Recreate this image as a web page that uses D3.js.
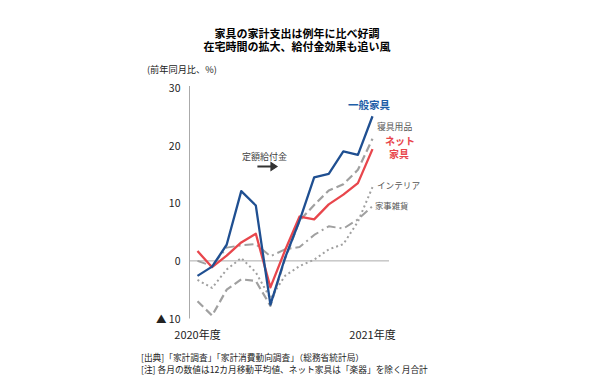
<!DOCTYPE html>
<html>
<head>
<meta charset="utf-8">
<script src="https://cdn.jsdelivr.net/npm/d3@7"></script>
<style>
  body { margin: 0; background: #fff; }
  text { font-family: "Noto Sans CJK JP", "Noto Sans", sans-serif; }
</style>
</head>
<body>
<div id="chart"></div>
<script>
// months Apr 2020 .. Apr 2021 (12-month moving average, y/y %)
var months = d3.range(13);
var xLabels = ["2020年度", "2021年度"];
var yTicks = [-10, 0, 10, 20, 30];

var general = [-2.6, -1.0, 2.8, 12.1, 9.6, -7.6, 0.5, 7.0, 14.5, 15.1, 19.0, 18.4, 25.1];
var netFurn = [1.7, -1.1, 0.9, 3.2, 4.7, -4.6, 1.8, 7.7, 7.2, 9.8, 11.5, 13.5, 19.4];
var bedding = [-7.0, -9.5, -5.0, -3.2, -3.5, -7.8, 0.3, 7.0, 9.7, 12.2, 13.3, 15.8, 21.2];
var interior = [-3.3, -4.7, -1.5, 0.5, -2.0, -6.5, -2.6, -0.9, 0.2, 2.0, 2.9, 6.8, 12.8];
var household = [0.0, -0.9, 2.3, 2.7, 2.9, 0.8, 2.0, 2.4, 4.5, 6.0, 5.6, 7.2, 9.5];

var svgWidth = 590;
var svgHeight = 384;

var svg = d3.select("#chart")
            .append("svg")
            .attr("width", svgWidth)
            .attr("height", svgHeight);

// scales
var xScale = d3.scaleLinear()
               .domain([0, 12])
               .range([197.5, 372.5]);
var yScale = d3.scaleLinear()
               .domain([-10, 30])
               .range([318.5, 88]);

// title
svg.append("text")
   .attr("x", 297).attr("y", 37.5)
   .attr("text-anchor", "middle")
   .attr("font-size", "11px")
   .attr("font-weight", "bold")
   .text("家具の家計支出は例年に比べ好調");
svg.append("text")
   .attr("x", 297).attr("y", 51)
   .attr("text-anchor", "middle")
   .attr("font-size", "11px")
   .attr("font-weight", "bold")
   .text("在宅時間の拡大、給付金効果も追い風");

svg.append("text")
   .attr("x", 147).attr("y", 73)
   .attr("font-size", "9.2px")
   .attr("fill", "#222")
   .text("(前年同月比、%)");

// y axis line and zero line
svg.append("line")
   .attr("x1", 189.5).attr("x2", 189.5)
   .attr("y1", yScale(30) - 2).attr("y2", yScale(-10))
   .attr("stroke", "#aaa").attr("stroke-width", 1);
svg.append("line")
   .attr("x1", 189).attr("x2", 389)
   .attr("y1", yScale(0)).attr("y2", yScale(0))
   .attr("stroke", "#aaa").attr("stroke-width", 1);

// y tick labels
svg.selectAll(".ytick")
   .data(yTicks)
   .enter()
   .append("text")
   .attr("class", "ytick")
   .attr("x", 180.5)
   .attr("y", d => yScale(d) + 4)
   .attr("text-anchor", "end")
   .attr("font-family", "DejaVu Sans")
   .attr("font-size", "10.5px")
   .attr("fill", "#222")
   .text(d => d < 0 ? "▲ " + Math.abs(d) : d);

// x labels
svg.selectAll(".xlabel")
   .data(xLabels)
   .enter()
   .append("text")
   .attr("class", "xlabel")
   .attr("x", (d, i) => xScale(i * 12))
   .attr("y", 339)
   .attr("text-anchor", "middle")
   .attr("font-size", "11px")
   .attr("fill", "#222")
   .text(d => d);

var line = d3.line()
             .x((d, i) => xScale(months[i]))
             .y(d => yScale(d));

// gray series first, then red and blue on top
var series = [
    {values: household, color: "#a0a0a0", width: 2, dash: "9,4,2,4"},
    {values: interior, color: "#a0a0a0", width: 2, dash: "2,3"},
    {values: bedding, color: "#a0a0a0", width: 2.2, dash: "8,4"},
    {values: netFurn, color: "#e8464c", width: 2.3, dash: null},
    {values: general, color: "#1f4f91", width: 2.3, dash: null}
];

svg.selectAll(".series")
   .data(series)
   .enter()
   .append("path")
   .attr("class", "series")
   .attr("d", d => line(d.values))
   .attr("fill", "none")
   .attr("stroke", d => d.color)
   .attr("stroke-width", d => d.width)
   .attr("stroke-dasharray", d => d.dash)
   .attr("stroke-linejoin", "round");

// series labels
svg.append("text")
   .attr("x", 348).attr("y", 109)
   .attr("font-size", "10.5px").attr("font-weight", "bold")
   .attr("fill", "#1f5fa8")
   .text("一般家具");
svg.append("text")
   .attr("x", 377).attr("y", 130)
   .attr("font-size", "8.8px")
   .attr("fill", "#555")
   .text("寝具用品");
svg.append("text")
   .attr("x", 385).attr("y", 145)
   .attr("font-size", "10px").attr("font-weight", "bold")
   .attr("fill", "#e8464c")
   .text("ネット");
svg.append("text")
   .attr("x", 389).attr("y", 158)
   .attr("font-size", "10px").attr("font-weight", "bold")
   .attr("fill", "#e8464c")
   .text("家具");
svg.append("text")
   .attr("x", 377).attr("y", 188.5)
   .attr("font-size", "8.6px")
   .attr("fill", "#555")
   .text("インテリア");
svg.append("text")
   .attr("x", 375).attr("y", 208.5)
   .attr("font-size", "8.4px")
   .attr("fill", "#555")
   .text("家事雑貨");

// 定額給付金 annotation with arrow
svg.append("text")
   .attr("x", 242).attr("y", 160)
   .attr("font-size", "9px")
   .attr("fill", "#444")
   .text("定額給付金");
svg.append("path")
   .attr("d", "M258,166 L271,166 L271,162.5 L277,166.5 L271,170.5 L271,167 L258,167 Z")
   .attr("fill", "#333")
   .attr("stroke", "#333")
   .attr("stroke-width", 1.2);

// footnotes
svg.append("text")
   .attr("x", 141).attr("y", 361)
   .attr("font-size", "8.7px")
   .attr("fill", "#222")
   .text("[出典]「家計調査」「家計消費動向調査」（総務省統計局）");
svg.append("text")
   .attr("x", 141).attr("y", 373)
   .attr("font-size", "8.7px")
   .attr("fill", "#222")
   .text("[注] 各月の数値は12カ月移動平均値、ネット家具は「楽器」を除く月合計");
</script>
</body>
</html>
